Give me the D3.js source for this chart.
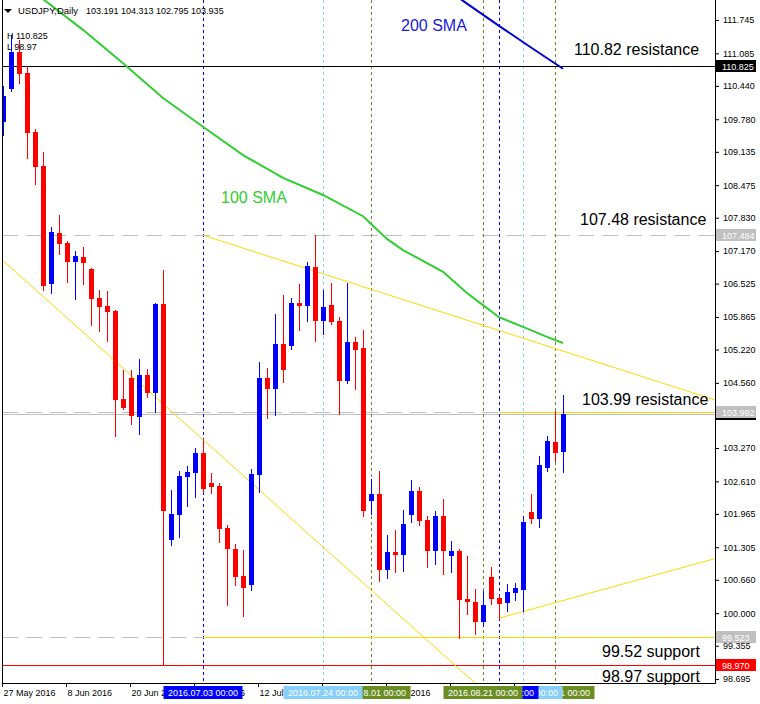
<!DOCTYPE html>
<html>
<head>
<meta charset="utf-8">
<script src="https://cdn.jsdelivr.net/npm/d3@7"></script>
<style>
  body { margin: 0; background: #fff; }
  svg { display: block; font-family: 'Liberation Sans', Arial, sans-serif; }
</style>
</head>
<body>
<svg id="chart"></svg>
<script>
// USDJPY daily, 27 May 2016 .. 2 Sep 2016
const symbol = 'USDJPY,Daily';
const lastQuote = '103.191 104.313 102.795 103.935';
const rangeHigh = 'H 110.825';
const rangeLow = 'L 98.97';

const open = [109.73,110.38,111.11,110.70,109.53,108.85,106.52,107.53,107.33,106.95,
  107.05,106.81,106.24,106.08,105.98,104.24,104.66,103.88,104.72,104.36,
  106.12,101.45,101.94,102.70,102.78,103.17,102.58,102.52,101.69,101.27,
  100.74,100.56,102.74,104.66,104.44,105.33,105.29,106.14,106.08,106.85,
  105.79,106.10,105.79,104.60,105.37,105.25,102.22,102.36,100.85,101.21,
  101.15,101.94,102.42,101.84,101.23,101.92,101.13,101.23,100.28,100.22,
  99.82,100.72,100.30,100.20,100.40,100.46,102.00,101.86,102.87,103.39,
  103.191];
const high = [110.44,111.45,111.35,110.83,109.59,109.13,107.65,107.88,107.37,107.17,
  107.25,106.83,106.40,106.38,106.00,104.81,104.81,105.03,104.83,106.14,
  106.80,102.44,102.81,102.91,103.27,103.41,102.78,102.58,101.75,101.37,
  101.25,102.85,104.97,104.85,105.92,106.30,106.24,106.52,106.95,107.49,
  106.40,106.54,105.86,106.54,105.47,105.61,102.66,102.81,101.55,101.65,
  102.04,102.64,102.50,101.92,102.02,102.26,101.43,101.27,101.13,100.48,
  100.44,100.91,100.36,100.58,100.60,101.92,102.36,103.11,103.51,104.00,
  104.313];
const low = [109.47,110.34,110.50,109.01,108.50,106.40,106.34,107.11,106.56,106.22,
  106.52,105.71,105.59,105.39,103.51,104.04,103.75,103.55,104.28,103.98,
  98.97,101.35,101.51,102.12,102.30,102.40,102.38,101.41,100.16,100.56,
  99.94,100.46,102.40,103.86,103.92,104.58,105.23,105.61,105.79,105.39,
  105.53,105.73,103.94,104.56,104.44,101.92,101.96,100.64,100.70,100.81,
  100.83,101.80,101.75,100.91,100.97,100.78,100.81,99.51,99.98,99.59,
  99.75,100.18,99.88,100.04,100.26,100.04,101.79,101.71,102.81,103.01,
  102.795];
const close = [110.24,111.11,110.68,109.51,108.83,106.48,107.55,107.31,106.95,107.07,
  106.93,106.22,106.06,105.96,104.22,104.06,103.90,104.72,104.36,106.12,
  102.02,101.96,102.72,102.79,103.17,102.46,102.50,101.67,101.27,100.72,
  100.50,102.76,104.66,104.44,105.33,104.81,106.14,106.08,106.87,105.79,
  106.06,105.77,104.60,105.37,105.21,102.02,102.36,100.85,101.21,101.15,
  101.77,102.42,101.82,101.23,101.92,101.23,101.23,100.26,100.22,99.82,
  100.16,100.28,100.18,100.42,100.50,101.80,101.86,102.93,103.41,103.17,
  103.935];

const tickBars = [0, 8, 16, 24, 32, 40, 48, 56, 64];
const tickDates = ['27 May 2016', '8 Jun 2016', '20 Jun 2016', '30 Jun 2016', '12 Jul 2016',
  '22 Jul 2016', '3 Aug 2016', '15 Aug 2016', '25 Aug 2016'];
const priceTicks = [111.745, 111.085, 110.440, 109.780, 109.135, 108.475, 107.830, 107.170,
  106.525, 105.865, 105.220, 104.560, 103.900, 103.270, 102.610, 101.965, 101.305,
  100.660, 100.000, 99.355, 98.695];

const sma100Bars = [3, 5, 10, 15, 20, 25, 30, 35, 40, 45, 48, 50, 55, 58, 60, 62, 65, 68, 70];
const sma100 = [112.42, 112.16, 111.55, 110.89, 110.20, 109.63, 109.07, 108.62, 108.28, 107.86,
  107.41, 107.19, 106.76, 106.34, 106.10, 105.86, 105.67, 105.47, 105.35];
const sma200Bars = [56, 58, 62, 66, 70];
const sma200 = [112.29, 112.07, 111.63, 111.20, 110.78];

const bid = 103.935;
const resistance = [110.825, 107.484, 103.992];
const support = [99.523, 98.970];

// trend lines: [bar, price] pairs
const upperTrend = [[25, 107.484], [70, 105.19]];
const lowerTrend = [[0, 106.98], [40, 101.31]];
const risingTrend = [[62, 99.90], [70, 100.25]];

const vBars = [25, 40, 46, 60, 62, 65, 69];
const vLabels = ['2016.07.03 00:00', '2016.07.24 00:00', '2016.08.01 00:00', '2016.08.21 00:00',
  '2016.08.23 00:00', '2016.08.28 00:00', '2016.09.01 00:00'];
const vColors = ['#0000ff', '#87cefa', '#6b8e23', '#6b8e23', '#0000ff', '#87cefa', '#6b8e23'];
const vOrder = [0, 2, 1, 6, 5, 4, 3];

const width = 760;
const height = 704;
const left = 2, right = 715, bottom = 683;

const x = d3.scaleLinear().domain([0, 70]).range([3, 563]);
const y = d3.scaleLinear().domain([98.617, 112.141]).range([bottom, 0]);
const py = p => Math.round(y(p)) + 0.5;

const svg = d3.select('#chart')
    .attr('width', width)
    .attr('height', height);

svg.append('rect').attr('width', width).attr('height', height).attr('fill', '#fff');

svg.append('clipPath').attr('id', 'plotClip')
  .append('rect')
    .attr('x', left).attr('y', 0)
    .attr('width', right - left).attr('height', bottom);

const plot = svg.append('g').attr('clip-path', 'url(#plotClip)');
const flat = plot.append('g').attr('shape-rendering', 'crispEdges');

// grey level lines
flat.selectAll('line.level')
  .data([107.484, 103.992, 99.523])
  .join('line')
    .classed('level', true)
    .attr('x1', left).attr('x2', right)
    .attr('y1', d => py(d)).attr('y2', d => py(d))
    .attr('stroke', '#c0c0c0')
    .attr('stroke-dasharray', '16,8');

flat.append('line')
    .attr('x1', left).attr('x2', right)
    .attr('y1', py(bid)).attr('y2', py(bid))
    .attr('stroke', '#c0c0c0');

// vertical separators
flat.selectAll('line.vsep')
  .data(vBars)
  .join('line')
    .classed('vsep', true)
    .attr('x1', d => x(d) + 0.5).attr('x2', d => x(d) + 0.5)
    .attr('y1', 0).attr('y2', bottom)
    .attr('stroke', (d, i) => vColors[i])
    .attr('stroke-dasharray', '3,3');

// horizontal resistance / support
flat.append('line')
    .attr('x1', left).attr('x2', right)
    .attr('y1', py(resistance[0])).attr('y2', py(resistance[0]))
    .attr('stroke', '#000');
flat.append('line')
    .attr('x1', left).attr('x2', right)
    .attr('y1', py(support[1])).attr('y2', py(support[1]))
    .attr('stroke', '#ff0000');
flat.append('line')
    .attr('x1', x(25)).attr('x2', right)
    .attr('y1', py(support[0])).attr('y2', py(support[0]))
    .attr('stroke', '#ffd700');
flat.append('line')
    .attr('x1', x(62)).attr('x2', right)
    .attr('y1', py(resistance[2])).attr('y2', py(resistance[2]))
    .attr('stroke', '#ffd700');

// trend lines, extended over the plot
const ray = (pts, both) => {
    const [x0, y0] = [x(pts[0][0]), y(pts[0][1])];
    const [x1, y1] = [x(pts[1][0]), y(pts[1][1])];
    const k = (y1 - y0) / (x1 - x0);
    const xs = both ? left - 10 : x0;
    return [[xs, y0 + (xs - x0) * k], [right, y0 + (right - x0) * k]];
};
[ray(upperTrend, false), ray(lowerTrend, true), ray(risingTrend, false)].forEach(seg => {
    plot.append('line')
        .attr('x1', seg[0][0]).attr('y1', seg[0][1])
        .attr('x2', seg[1][0]).attr('y2', seg[1][1])
        .attr('stroke', '#ffd700')
        .attr('stroke-width', 1);
});

// moving averages
const maLine = d3.line().x(d => x(d[0])).y(d => y(d[1]));
plot.append('path')
    .attr('d', maLine(sma100Bars.map((b, i) => [b, sma100[i]])))
    .attr('fill', 'none')
    .attr('stroke', '#32cd32')
    .attr('stroke-width', 2);
plot.append('path')
    .attr('d', maLine(sma200Bars.map((b, i) => [b, sma200[i]])))
    .attr('fill', 'none')
    .attr('stroke', '#0000cd')
    .attr('stroke-width', 2);

// candles
const bars = d3.range(open.length).map(i => ({ i, o: open[i], h: high[i], l: low[i], c: close[i] }));
const candles = plot.selectAll('g.candle')
  .data(bars)
  .join('g')
    .classed('candle', true)
    .attr('shape-rendering', 'crispEdges')
    .attr('fill', d => d.c >= d.o ? '#0000ff' : '#ff0000')
    .attr('stroke', d => d.c >= d.o ? '#0000ff' : '#ff0000');

candles.append('line')
    .attr('x1', d => x(d.i) + 0.5).attr('x2', d => x(d.i) + 0.5)
    .attr('y1', d => Math.round(y(d.h))).attr('y2', d => Math.round(y(d.l)) + 1);

candles.append('rect')
    .attr('stroke', 'none')
    .attr('x', d => x(d.i) - 2)
    .attr('y', d => Math.round(y(Math.max(d.o, d.c))))
    .attr('width', 5)
    .attr('height', d => Math.max(1, Math.round(y(Math.min(d.o, d.c))) - Math.round(y(Math.max(d.o, d.c)))));

// frame
svg.append('line').attr('x1', left + 0.5).attr('x2', left + 0.5).attr('y1', 0).attr('y2', bottom + 0.5).attr('stroke', '#000');
svg.append('line').attr('x1', left).attr('x2', right + 0.5).attr('y1', bottom + 0.5).attr('y2', bottom + 0.5).attr('stroke', '#000');

// price labels sitting on the axis
const tags = [
    { p: resistance[0], bg: '#000' },
    { p: resistance[1], bg: '#c0c0c0' },
    { p: bid, bg: '#000' },
    { p: resistance[2], bg: '#c0c0c0' },
    { p: support[0], bg: '#c0c0c0' },
    { p: support[1], bg: '#ff0000' }
];

// price axis
const yAxis = d3.axisRight(y)
    .tickValues(priceTicks)
    .tickSize(4)
    .tickSizeOuter(0)
    .tickPadding(4)
    .tickFormat(d => tags.some(t => Math.abs(y(t.p) - y(d)) < 6) ? '' : d3.format('.3f')(d));
const ya = svg.append('g')
    .attr('transform', `translate(${right},0)`)
    .call(yAxis);
ya.select('.domain').attr('stroke', '#000').attr('d', `M0.5,0V${bottom + 0.5}`);
ya.selectAll('text').attr('font-size', 9).attr('font-family', 'Liberation Sans, Arial, sans-serif').attr('fill', '#000');
ya.selectAll('.tick line').attr('stroke', '#000');
ya.selectAll('text').filter(function () { return this.textContent === ''; }).remove();

// date axis
const xAxis = d3.axisBottom(x)
    .tickValues(tickBars)
    .tickSize(4)
    .tickSizeOuter(0)
    .tickPadding(3)
    .tickFormat((d, i) => tickDates[i]);
const xa = svg.append('g')
    .attr('transform', `translate(-1,${bottom})`)
    .call(xAxis);
xa.select('.domain').remove();
xa.selectAll('text').attr('font-size', 9).attr('font-family', 'Liberation Sans, Arial, sans-serif')
    .attr('fill', '#000').attr('text-anchor', 'start').attr('x', 1);
xa.selectAll('.tick line').attr('stroke', '#000');

// the separator labels cover parts of the date row; keep only the visible characters
const boxes = vBars.map(b => [x(b) + 0.5 - 40, x(b) + 0.5 + 39]);
const subtract = (segs, cut) => segs.flatMap(([a, b]) => {
    if (cut[1] <= a || cut[0] >= b) return [[a, b]];
    const out = [];
    if (cut[0] > a) out.push([a, cut[0]]);
    if (cut[1] < b) out.push([cut[1], b]);
    return out;
});
const fitText = (node, segs) => {
    const e = node.getCTM().e;
    const s = node.textContent;
    const seen = k => {
        const r = node.getExtentOfChar(k);
        const a = r.x + e, b = a + r.width;
        return segs.some(([p, q]) => b > p + 1 && a < q - 1);
    };
    let first = 0, last = s.length - 1;
    while (first <= last && !seen(first)) first++;
    while (last >= first && !seen(last)) last--;
    if (first > last) { node.remove(); return; }
    const x0 = node.getStartPositionOfChar(first).x;
    d3.select(node).attr('text-anchor', 'start').attr('x', x0).text(s.slice(first, last + 1));
};

const rowFree = boxes.reduce((segs, bx) => subtract(segs, bx), [[0, width]]);
xa.selectAll('text').each(function () { fitText(this, rowFree); });

// separator labels on the date axis
vOrder.forEach((i, k) => {
    const cx = x(vBars[i]) + 0.5;
    const g = svg.append('g').attr('transform', `translate(${cx - 40},686)`);
    g.append('rect').attr('width', 79).attr('height', 13).attr('fill', vColors[i]);
    const t = g.append('text').attr('x', 39.5).attr('y', 10).attr('text-anchor', 'middle')
        .attr('font-size', 9).attr('fill', '#fff').text(vLabels[i]);
    const free = vOrder.slice(k + 1).reduce((segs, j) => subtract(segs, boxes[j]), [boxes[i]]);
    fitText(t.node(), free);
});

tags.forEach(t => {
    const cy = Math.round(y(t.p));
    svg.append('rect').attr('x', right + 1).attr('y', cy - 6).attr('width', 40).attr('height', 12).attr('fill', t.bg);
    svg.append('text').attr('x', right + 7).attr('y', cy + 4).attr('font-size', 9).attr('fill', '#fff')
        .text(d3.format('.3f')(t.p));
});

// header
svg.append('path').attr('d', 'M4,9H12L8,13Z').attr('fill', '#000');
svg.append('text').attr('x', 18).attr('y', 14).attr('font-size', 9.5).text(symbol);
svg.append('text').attr('x', 86).attr('y', 14).attr('font-size', 9).text(lastQuote);
svg.append('text').attr('x', 7).attr('y', 39).attr('font-size', 9).text(rangeHigh);
svg.append('text').attr('x', 7).attr('y', 50).attr('font-size', 9).text(rangeLow);

// annotations
const notes = [
    { t: '200 SMA', x: 401, y: 31, c: '#1a1ad6' },
    { t: '110.82 resistance', x: 574, y: 55, c: '#000' },
    { t: '100 SMA', x: 221, y: 203, c: '#32cd32' },
    { t: '107.48 resistance', x: 580, y: 225, c: '#000' },
    { t: '103.99 resistance', x: 582, y: 405, c: '#000' },
    { t: '99.52 support', x: 602, y: 657, c: '#000' },
    { t: '98.97 support', x: 602, y: 682, c: '#000' }
];
svg.selectAll('text.note')
  .data(notes)
  .join('text')
    .classed('note', true)
    .attr('x', d => d.x).attr('y', d => d.y)
    .attr('font-size', 16)
    .attr('fill', d => d.c)
    .text(d => d.t);
</script>
</body>
</html>
